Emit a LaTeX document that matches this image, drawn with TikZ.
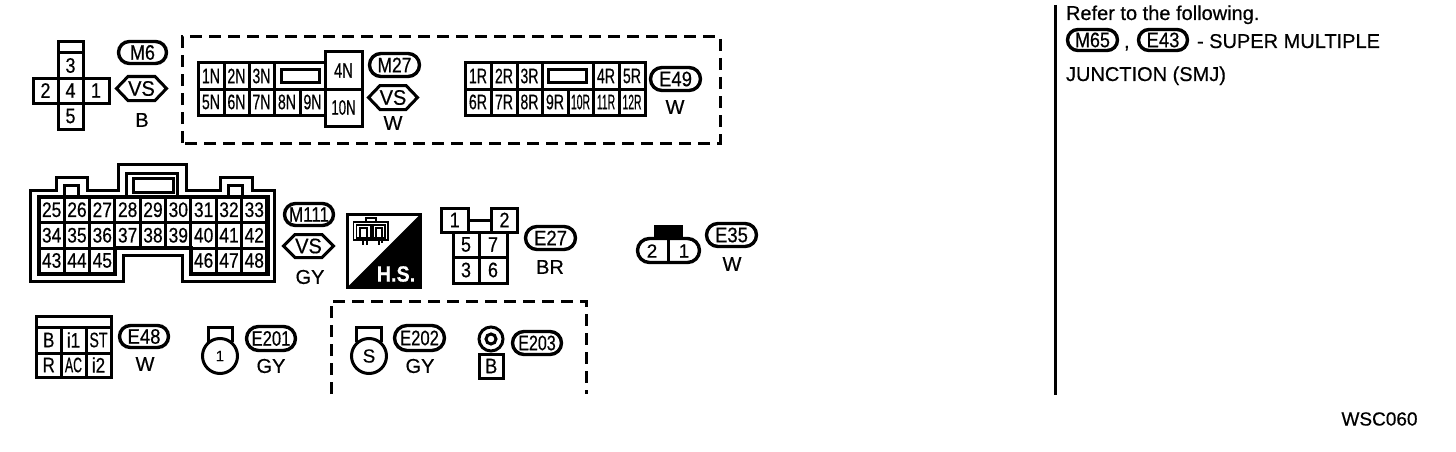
\documentclass[tikz,border=0pt]{standalone}
\usepackage{graphicx}
\usepackage{fontspec}
\setmainfont{Liberation Sans}[FakeBold=0.5]
\newcommand{\CellBox}[7]{%
  \node[cellbox,minimum width={(#4-#2)*1pt},minimum height={(#5-#3)*1pt}] (#1) at ({(#2+#4)/2},{(#3+#5)/2}) {\makebox[0pt]{\scalebox{.9}[1]{\scalebox{#6}[1]{#7}}}};}
\newcommand{\PillBox}[7]{%
  \node[pillbox,minimum width={(#4-#2-3)*1pt},minimum height={(#5-#3-3)*1pt},rounded corners={(#5-#3-3)*0.5pt}] (#1) at ({(#2+#4)/2},{(#3+#5)/2}) {\makebox[0pt]{\scalebox{.9}[1]{\scalebox{#6}[1]{#7}}}};}
\newcommand{\HexBox}[5]{%
  \draw[hexline] (#2+1.5,{(#3+#5)/2}) -- (#2+13,#3+1.5) -- (#4-13,#3+1.5) -- (#4-1.5,{(#3+#5)/2}) -- (#4-13,#5-1.5) -- (#2+13,#5-1.5) -- cycle;
  \node[lbl,font=\fontsize{21}{24}\selectfont] (#1) at ({(#2+#4)/2},{(#3+#5)/2}) {\scalebox{.95}[1]{VS}};}
\tikzset{
  x=1pt,y=-1pt,
  cellbox/.style={draw=black,line width=3pt,fill=white,inner sep=0pt,outer sep=0pt,rectangle,font=\fontsize{21}{24}\selectfont},
  pillbox/.style={draw=black,line width=3.4pt,fill=white,inner sep=0pt,outer sep=0pt,rectangle,font=\fontsize{21}{24}\selectfont},
  lbl/.style={inner sep=0pt,outer sep=0pt,font=\fontsize{20}{24}\selectfont},
  reftext/.style={inner sep=0pt,outer sep=0pt,anchor=base west,font=\fontsize{20}{24}\selectfont},
  hexline/.style={draw=black,line width=3pt,line join=miter},
  frameline/.style={draw=black,line width=3pt,line join=miter},
  dashline/.style={draw=black,line width=3pt,dash pattern=on 12pt off 7pt},
  iconline/.style={draw=black,line width=1.2pt}
}
\begin{document}
\begin{tikzpicture}
\useasboundingbox (0,0) rectangle (1456,452);
\fill[white] (0,0) rectangle (1456,452);
% M6
\CellBox{mt}{58}{42}{83}{53}{1}{}
\CellBox{m3}{58}{53}{83}{78}{.95}{3}
\CellBox{m2}{33}{78}{58}{103}{.95}{2}
\CellBox{m4}{58}{78}{83}{103}{.95}{4}
\CellBox{m1}{83}{78}{109}{103}{.95}{1}
\CellBox{m5}{58}{103}{83}{129}{.95}{5}
\PillBox{pm6}{117}{40}{168}{65}{.95}{M6}
\HexBox{hm6}{115}{75}{168}{102}
\node[lbl] (lb) at (142,120) {B};
% dashed 1
\draw[dashline] (182,143) -- (182,37) -- (720,37) -- (720,143) -- cycle;
% M27
\CellBox{n1}{198}{63}{224}{89}{.75}{1N}
\CellBox{n2}{224}{63}{249}{89}{.75}{2N}
\CellBox{n3}{249}{63}{274}{89}{.75}{3N}
\CellBox{nw}{274}{63}{325}{89}{1}{}
\CellBox{ni}{281}{70}{319}{82}{1}{}
\CellBox{n5}{198}{89}{224}{115}{.75}{5N}
\CellBox{n6}{224}{89}{249}{115}{.75}{6N}
\CellBox{n7}{249}{89}{274}{115}{.75}{7N}
\CellBox{n8}{274}{89}{300}{115}{.75}{8N}
\CellBox{n9}{300}{89}{325}{115}{.75}{9N}
\CellBox{n4}{325}{52}{362}{89}{.78}{4N}
\CellBox{n10}{325}{89}{362}{126}{.7}{10N}
\PillBox{pm27}{368}{52}{421}{78}{.92}{M27}
\HexBox{hm27}{367}{84}{419}{111}
\node[lbl] (lw1) at (393,123) {W};
% E49
\CellBox{r1}{465}{63}{491}{89}{.75}{1R}
\CellBox{r2}{491}{63}{517}{89}{.75}{2R}
\CellBox{r3}{517}{63}{542}{89}{.75}{3R}
\CellBox{rw}{542}{63}{593}{89}{1}{}
\CellBox{ri}{548}{70}{586}{82}{1}{}
\CellBox{r4}{593}{63}{619}{89}{.75}{4R}
\CellBox{r5}{619}{63}{645}{89}{.75}{5R}
\CellBox{r6}{465}{89}{491}{115}{.75}{6R}
\CellBox{r7}{491}{89}{517}{115}{.75}{7R}
\CellBox{r8}{517}{89}{542}{115}{.75}{8R}
\CellBox{r9}{542}{89}{568}{115}{.75}{9R}
\CellBox{r10}{568}{89}{593}{115}{.55}{10R}
\CellBox{r11}{593}{89}{619}{115}{.55}{11R}
\CellBox{r12}{619}{89}{645}{115}{.55}{12R}
\PillBox{pe49}{649}{66}{702}{92}{.98}{E49}
\node[lbl] (lw2) at (675,107) {W};
% M111
\draw[frameline] (30.5,190) -- (56,190) -- (56,177) -- (87,177) -- (87,190) -- (118,190) -- (118,164) -- (186,164) -- (186,190) -- (220,190) -- (220,177) -- (252,177) -- (252,190) -- (274.5,190) -- (274.5,281) -- (182,281) -- (182,255) -- (123,255) -- (123,281) -- (30.5,281) -- cycle;
\draw[frameline] (64,197) -- (64,185) -- (78,185) -- (78,197);
\draw[frameline] (228,197) -- (228,185) -- (242,185) -- (242,197);
\draw[frameline] (126,197) -- (126,173) -- (177,173) -- (177,197);
\draw[frameline] (133,178) rectangle (173,192);
\foreach \n [count=\c from 0] in {25,...,33}{
  \pgfmathsetmacro{\xa}{39+25.33*\c}\pgfmathsetmacro{\xb}{\xa+25.33}
  \CellBox{p\n}{\xa}{197}{\xb}{222.5}{.92}{\n}}
\foreach \n [count=\c from 0] in {34,...,42}{
  \pgfmathsetmacro{\xa}{39+25.33*\c}\pgfmathsetmacro{\xb}{\xa+25.33}
  \CellBox{p\n}{\xa}{222.5}{\xb}{248}{.92}{\n}}
\foreach \n [count=\c from 0] in {43,44,45}{
  \pgfmathsetmacro{\xa}{39+25.33*\c}\pgfmathsetmacro{\xb}{\xa+25.33}
  \CellBox{p\n}{\xa}{248}{\xb}{273}{.92}{\n}}
\foreach \n [count=\c from 6] in {46,47,48}{
  \pgfmathsetmacro{\xa}{39+25.33*\c}\pgfmathsetmacro{\xb}{\xa+25.33}
  \CellBox{p\n}{\xa}{248}{\xb}{273}{.92}{\n}}
\draw[draw=black,line width=4pt,line join=miter] (38.5,196.5) -- (267.5,196.5) -- (267.5,274) -- (191,274) -- (191,248) -- (115,248) -- (115,274) -- (38.5,274) -- cycle;
\PillBox{pm111}{283}{202}{335}{227}{.9}{M111}
\HexBox{hm111}{282}{233}{335}{259}
\node[lbl] (lgy1) at (310,277) {GY};
% H.S.
\draw[frameline,fill=white] (347.5,214.5) rectangle (420,287);
\fill[black] (420,214.5) -- (420,287) -- (347.5,287) -- cycle;
\node[inner sep=0pt,text=white,font=\fontsize{22}{26}\selectfont\bfseries] (hs) at (396,274) {\scalebox{.9}[1]{H.S.}};
\draw[iconline] (353.5,222) rectangle (388,240);
\draw[iconline] (366,222) -- (366,218) -- (376,218) -- (376,222);
\draw[iconline] (356.5,225) rectangle (371,238);
\draw[iconline] (373,225) rectangle (385,238);
\draw[iconline] (360,238) -- (360,228) -- (367,228) -- (367,245);
\draw[iconline] (363,238) -- (363,245);
\draw[iconline] (376,238) -- (376,228) -- (382,228) -- (382,243);
\draw[iconline] (379,238) -- (379,245);
% E27
\CellBox{e1}{441.5}{208}{468}{232}{.95}{1}
\CellBox{e2}{491.5}{208}{517.5}{232}{.95}{2}
\draw[line width=3pt] (e1) -- (e2);
\CellBox{e5}{453}{232}{479}{257}{.95}{5}
\CellBox{e7}{479}{232}{507}{257}{.95}{7}
\CellBox{e3}{453}{257}{479}{283}{.95}{3}
\CellBox{e6}{479}{257}{507}{283}{.95}{6}
\PillBox{pe27}{524}{225}{577}{251}{.98}{E27}
\node[lbl] (lbr) at (550,267) {BR};
% E35
\fill[black] (654,225) rectangle (683,238);
\PillBox{b35}{636}{237}{701}{264}{1}{}
\node[lbl,font=\fontsize{19}{22}\selectfont] (d2) at (652,251) {2};
\node[lbl,font=\fontsize{19}{22}\selectfont] (d1) at (684,251) {1};
\draw[line width=3pt] (b35.north) -- (b35.south);
\PillBox{pe35}{705}{222}{758}{248}{.98}{E35}
\node[lbl] (lw3) at (732,264) {W};
% E48
\CellBox{f0}{36.5}{316}{111}{327}{1}{}
\CellBox{fb}{36.5}{327}{61}{353}{.9}{B}
\CellBox{fi}{61}{327}{86}{353}{.9}{i1}
\CellBox{fs}{86}{327}{111}{353}{.75}{ST}
\CellBox{fr}{36.5}{353}{61}{377}{.9}{R}
\CellBox{fa}{61}{353}{86}{377}{.65}{AC}
\CellBox{fj}{86}{353}{111}{377}{.9}{i2}
\PillBox{pe48}{118}{324}{170}{349}{.98}{E48}
\node[lbl] (lw4) at (145,364) {W};
% E201
\draw[frameline] (208.5,342) -- (208.5,327) -- (232.5,327) -- (232.5,342);
\node[circle,draw=black,fill=white,line width=3pt,minimum size=35pt,inner sep=0pt,font=\fontsize{15}{18}\selectfont] (c1) at (220,356) {1};
\PillBox{pe201}{245}{325}{297}{352}{.88}{E201}
\node[lbl] (lgy2) at (271,366) {GY};
% dashed 2
\draw[dashline] (331,394) -- (331,301) -- (586,301) -- (586,394);
% E202
\draw[frameline] (356.5,342) -- (356.5,327) -- (381,327) -- (381,342);
\node[circle,draw=black,fill=white,line width=3pt,minimum size=35pt,inner sep=0pt,font=\fontsize{19}{22}\selectfont] (c2) at (369,356) {S};
\PillBox{pe202}{393}{324}{446}{352}{.88}{E202}
\node[lbl] (lgy3) at (420,366) {GY};
% E203
\node[circle,draw=black,fill=white,line width=3pt,minimum size=24pt,inner sep=0pt] (c3) at (491,339) {};
\node[circle,draw=black,fill=white,line width=3pt,minimum size=10pt,inner sep=0pt] (c4) at (491,339) {};
\CellBox{bb}{479.5}{354}{503}{378}{.95}{B}
\PillBox{pe203}{511}{330}{563}{356}{.85}{E203}
% right panel
\draw[line width=3pt] (1055,5) -- (1055,395);
\node[reftext] (t1) at (1066,20) {Refer to the following.};
\PillBox{pm65}{1066}{28}{1119}{52}{.95}{M65}
\node[reftext] (t2) at (1124,48) {,};
\PillBox{pe43}{1137}{28}{1189}{52}{.98}{E43}
\node[reftext] (t3) at (1197,48) {- SUPER MULTIPLE};
\node[reftext] (t4) at (1066,81) {JUNCTION (SMJ)};
\node[lbl,font=\fontsize{19}{22}\selectfont] (w) at (1379.5,419) {WSC060};
\end{tikzpicture}
\end{document}
